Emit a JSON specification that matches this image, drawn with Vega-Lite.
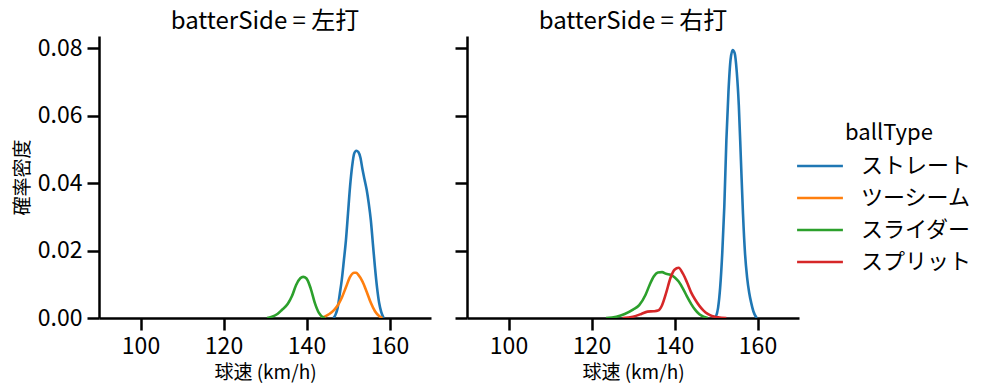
{
  "$schema": "https://vega.github.io/schema/vega-lite/v6.json",
  "background": "white",
  "padding": {"left": 13, "top": 10, "right": 5, "bottom": 5},
  "datasets": {
    "kde": [
      {"side": "左打", "ballType": "ストレート", "speed": 146.5, "density": 0},
      {"side": "左打", "ballType": "ストレート", "speed": 147, "density": 0.001},
      {"side": "左打", "ballType": "ストレート", "speed": 147.5, "density": 0.003},
      {"side": "左打", "ballType": "ストレート", "speed": 148, "density": 0.007},
      {"side": "左打", "ballType": "ストレート", "speed": 148.5, "density": 0.0113},
      {"side": "左打", "ballType": "ストレート", "speed": 149, "density": 0.017},
      {"side": "左打", "ballType": "ストレート", "speed": 149.5, "density": 0.023},
      {"side": "左打", "ballType": "ストレート", "speed": 150, "density": 0.031},
      {"side": "左打", "ballType": "ストレート", "speed": 150.5, "density": 0.039},
      {"side": "左打", "ballType": "ストレート", "speed": 151, "density": 0.045},
      {"side": "左打", "ballType": "ストレート", "speed": 151.5, "density": 0.0488},
      {"side": "左打", "ballType": "ストレート", "speed": 152, "density": 0.0496},
      {"side": "左打", "ballType": "ストレート", "speed": 152.5, "density": 0.0492},
      {"side": "左打", "ballType": "ストレート", "speed": 153, "density": 0.0475},
      {"side": "左打", "ballType": "ストレート", "speed": 153.5, "density": 0.044},
      {"side": "左打", "ballType": "ストレート", "speed": 154, "density": 0.041},
      {"side": "左打", "ballType": "ストレート", "speed": 154.5, "density": 0.038},
      {"side": "左打", "ballType": "ストレート", "speed": 155, "density": 0.034},
      {"side": "左打", "ballType": "ストレート", "speed": 155.5, "density": 0.029},
      {"side": "左打", "ballType": "ストレート", "speed": 156, "density": 0.022},
      {"side": "左打", "ballType": "ストレート", "speed": 156.5, "density": 0.015},
      {"side": "左打", "ballType": "ストレート", "speed": 157, "density": 0.009},
      {"side": "左打", "ballType": "ストレート", "speed": 157.5, "density": 0.0045},
      {"side": "左打", "ballType": "ストレート", "speed": 158, "density": 0.0018},
      {"side": "左打", "ballType": "ストレート", "speed": 158.6, "density": 0},
      {"side": "左打", "ballType": "ツーシーム", "speed": 143.5, "density": 0},
      {"side": "左打", "ballType": "ツーシーム", "speed": 144.5, "density": 0.0005},
      {"side": "左打", "ballType": "ツーシーム", "speed": 145.5, "density": 0.0012},
      {"side": "左打", "ballType": "ツーシーム", "speed": 146.5, "density": 0.0022},
      {"side": "左打", "ballType": "ツーシーム", "speed": 147.5, "density": 0.0037},
      {"side": "左打", "ballType": "ツーシーム", "speed": 148.5, "density": 0.006},
      {"side": "左打", "ballType": "ツーシーム", "speed": 149.5, "density": 0.0091},
      {"side": "左打", "ballType": "ツーシーム", "speed": 150.5, "density": 0.0122},
      {"side": "左打", "ballType": "ツーシーム", "speed": 151.5, "density": 0.0134},
      {"side": "左打", "ballType": "ツーシーム", "speed": 152, "density": 0.0134},
      {"side": "左打", "ballType": "ツーシーム", "speed": 152.5, "density": 0.0128},
      {"side": "左打", "ballType": "ツーシーム", "speed": 153.5, "density": 0.0108},
      {"side": "左打", "ballType": "ツーシーム", "speed": 154.5, "density": 0.0078},
      {"side": "左打", "ballType": "ツーシーム", "speed": 155.5, "density": 0.0045},
      {"side": "左打", "ballType": "ツーシーム", "speed": 156.5, "density": 0.002},
      {"side": "左打", "ballType": "ツーシーム", "speed": 157.5, "density": 0.0006},
      {"side": "左打", "ballType": "ツーシーム", "speed": 158.3, "density": 0},
      {"side": "左打", "ballType": "スライダー", "speed": 130.5, "density": 0},
      {"side": "左打", "ballType": "スライダー", "speed": 131.5, "density": 0.0003},
      {"side": "左打", "ballType": "スライダー", "speed": 133, "density": 0.0012},
      {"side": "左打", "ballType": "スライダー", "speed": 134, "density": 0.0023},
      {"side": "左打", "ballType": "スライダー", "speed": 135.5, "density": 0.0042},
      {"side": "左打", "ballType": "スライダー", "speed": 136.5, "density": 0.0065},
      {"side": "左打", "ballType": "スライダー", "speed": 137.5, "density": 0.0098},
      {"side": "左打", "ballType": "スライダー", "speed": 138.5, "density": 0.0118},
      {"side": "左打", "ballType": "スライダー", "speed": 139.2, "density": 0.0122},
      {"side": "左打", "ballType": "スライダー", "speed": 140, "density": 0.0117},
      {"side": "左打", "ballType": "スライダー", "speed": 141, "density": 0.0088},
      {"side": "左打", "ballType": "スライダー", "speed": 142, "density": 0.0045},
      {"side": "左打", "ballType": "スライダー", "speed": 143, "density": 0.0015},
      {"side": "左打", "ballType": "スライダー", "speed": 144, "density": 0.0002},
      {"side": "左打", "ballType": "スライダー", "speed": 144.5, "density": 0},
      {"side": "右打", "ballType": "ストレート", "speed": 149.8, "density": 0},
      {"side": "右打", "ballType": "ストレート", "speed": 150.5, "density": 0.003},
      {"side": "右打", "ballType": "ストレート", "speed": 151, "density": 0.009},
      {"side": "右打", "ballType": "ストレート", "speed": 151.5, "density": 0.019},
      {"side": "右打", "ballType": "ストレート", "speed": 152, "density": 0.033},
      {"side": "右打", "ballType": "ストレート", "speed": 152.5, "density": 0.0527},
      {"side": "右打", "ballType": "ストレート", "speed": 153, "density": 0.067},
      {"side": "右打", "ballType": "ストレート", "speed": 153.5, "density": 0.0765},
      {"side": "右打", "ballType": "ストレート", "speed": 154, "density": 0.0794},
      {"side": "右打", "ballType": "ストレート", "speed": 154.5, "density": 0.0785},
      {"side": "右打", "ballType": "ストレート", "speed": 155, "density": 0.073},
      {"side": "右打", "ballType": "ストレート", "speed": 155.5, "density": 0.063},
      {"side": "右打", "ballType": "ストレート", "speed": 156, "density": 0.047},
      {"side": "右打", "ballType": "ストレート", "speed": 156.5, "density": 0.031},
      {"side": "右打", "ballType": "ストレート", "speed": 157, "density": 0.019},
      {"side": "右打", "ballType": "ストレート", "speed": 157.5, "density": 0.012},
      {"side": "右打", "ballType": "ストレート", "speed": 158, "density": 0.0075},
      {"side": "右打", "ballType": "ストレート", "speed": 158.5, "density": 0.0044},
      {"side": "右打", "ballType": "ストレート", "speed": 159, "density": 0.002},
      {"side": "右打", "ballType": "ストレート", "speed": 159.8, "density": 0},
      {"side": "右打", "ballType": "スライダー", "speed": 123.5, "density": 0},
      {"side": "右打", "ballType": "スライダー", "speed": 126, "density": 0.0004},
      {"side": "右打", "ballType": "スライダー", "speed": 128, "density": 0.0012},
      {"side": "右打", "ballType": "スライダー", "speed": 130, "density": 0.0025},
      {"side": "右打", "ballType": "スライダー", "speed": 131.5, "density": 0.0038},
      {"side": "右打", "ballType": "スライダー", "speed": 133, "density": 0.0068},
      {"side": "右打", "ballType": "スライダー", "speed": 134, "density": 0.0098},
      {"side": "右打", "ballType": "スライダー", "speed": 135, "density": 0.0123},
      {"side": "右打", "ballType": "スライダー", "speed": 136, "density": 0.0135},
      {"side": "右打", "ballType": "スライダー", "speed": 137, "density": 0.0136},
      {"side": "右打", "ballType": "スライダー", "speed": 138, "density": 0.0131},
      {"side": "右打", "ballType": "スライダー", "speed": 139, "density": 0.0128},
      {"side": "右打", "ballType": "スライダー", "speed": 140, "density": 0.0121},
      {"side": "右打", "ballType": "スライダー", "speed": 141, "density": 0.0108},
      {"side": "右打", "ballType": "スライダー", "speed": 142, "density": 0.0088},
      {"side": "右打", "ballType": "スライダー", "speed": 143, "density": 0.0064},
      {"side": "右打", "ballType": "スライダー", "speed": 144, "density": 0.0042},
      {"side": "右打", "ballType": "スライダー", "speed": 145, "density": 0.0024},
      {"side": "右打", "ballType": "スライダー", "speed": 146, "density": 0.0011},
      {"side": "右打", "ballType": "スライダー", "speed": 147, "density": 0.0004},
      {"side": "右打", "ballType": "スライダー", "speed": 148, "density": 0},
      {"side": "右打", "ballType": "スプリット", "speed": 127.5, "density": 0},
      {"side": "右打", "ballType": "スプリット", "speed": 130, "density": 0.0004},
      {"side": "右打", "ballType": "スプリット", "speed": 132, "density": 0.0012},
      {"side": "右打", "ballType": "スプリット", "speed": 133.5, "density": 0.0019},
      {"side": "右打", "ballType": "スプリット", "speed": 135, "density": 0.002},
      {"side": "右打", "ballType": "スプリット", "speed": 136, "density": 0.0022},
      {"side": "右打", "ballType": "スプリット", "speed": 137, "density": 0.0038},
      {"side": "右打", "ballType": "スプリット", "speed": 138, "density": 0.0075},
      {"side": "右打", "ballType": "スプリット", "speed": 139, "density": 0.0118},
      {"side": "右打", "ballType": "スプリット", "speed": 140, "density": 0.0143},
      {"side": "右打", "ballType": "スプリット", "speed": 141, "density": 0.0149},
      {"side": "右打", "ballType": "スプリット", "speed": 142, "density": 0.0132},
      {"side": "右打", "ballType": "スプリット", "speed": 143, "density": 0.0106},
      {"side": "右打", "ballType": "スプリット", "speed": 144, "density": 0.0076},
      {"side": "右打", "ballType": "スプリット", "speed": 145, "density": 0.0054},
      {"side": "右打", "ballType": "スプリット", "speed": 146, "density": 0.0036},
      {"side": "右打", "ballType": "スプリット", "speed": 147, "density": 0.0022},
      {"side": "右打", "ballType": "スプリット", "speed": 148, "density": 0.0012},
      {"side": "右打", "ballType": "スプリット", "speed": 149, "density": 0.0006},
      {"side": "右打", "ballType": "スプリット", "speed": 150.5, "density": 0.0002},
      {"side": "右打", "ballType": "スプリット", "speed": 152.5, "density": 0}
    ]
  },
  "data": {"name": "kde"},
  "spacing": 22,
  "hconcat": [
    {
      "title": "batterSide = 左打",
      "width": 332,
      "height": 282,
      "transform": [{"filter": "datum.side === '左打'"}],
      "mark": {"type": "line", "interpolate": "monotone", "strokeWidth": 2.6, "clip": true},
      "encoding": {
        "x": {"field": "speed", "type": "quantitative", "title": "球速 (km/h)",
              "scale": {"domain": [90, 170], "nice": false, "zero": false},
              "axis": {"values": [100, 120, 140, 160]}},
        "y": {"field": "density", "type": "quantitative", "title": "確率密度",
              "scale": {"domain": [0, 0.0836], "nice": false},
              "axis": {"values": [0, 0.02, 0.04, 0.06, 0.08], "format": ".2f"}},
        "color": {"field": "ballType", "type": "nominal", "title": "ballType",
                  "scale": {"domain": ["ストレート", "ツーシーム", "スライダー", "スプリット"],
                            "range": ["#1f77b4", "#ff7f0e", "#2ca02c", "#d62728"]}}
      }
    },
    {
      "title": "batterSide = 右打",
      "width": 332,
      "height": 282,
      "transform": [{"filter": "datum.side === '右打'"}],
      "mark": {"type": "line", "interpolate": "monotone", "strokeWidth": 2.6, "clip": true},
      "encoding": {
        "x": {"field": "speed", "type": "quantitative", "title": "球速 (km/h)",
              "scale": {"domain": [90, 170], "nice": false, "zero": false},
              "axis": {"values": [100, 120, 140, 160]}},
        "y": {"field": "density", "type": "quantitative", "title": null,
              "scale": {"domain": [0, 0.0836], "nice": false},
              "axis": {"values": [0, 0.02, 0.04, 0.06, 0.08], "labels": false}},
        "color": {"field": "ballType", "type": "nominal", "title": "ballType",
                  "scale": {"domain": ["ストレート", "ツーシーム", "スライダー", "スプリット"],
                            "range": ["#1f77b4", "#ff7f0e", "#2ca02c", "#d62728"]}}
      }
    }
  ],
  "resolve": {"scale": {"y": "shared", "x": "independent", "color": "shared"}},
  "config": {
    "font": "Noto Sans CJK JP",
    "view": {"stroke": null},
    "title": {"fontSize": 24, "fontWeight": "normal", "color": "black", "offset": 2, "anchor": "middle"},
    "axis": {
      "grid": false,
      "domainColor": "black", "domainWidth": 2.5,
      "tickColor": "black", "tickWidth": 2.5, "tickSize": 12,
      "labelFontSize": 23, "labelColor": "black", "labelPadding": 5,
      "titleFontSize": 19, "titleFontWeight": "normal", "titleColor": "black", "titlePadding": 5
    },
    "legend": {
      "orient": "none", "legendX": 708, "legendY": 87,
      "titleFontSize": 22, "titleFontWeight": "normal", "titleColor": "black", "titleAnchor": "middle", "titlePadding": 8,
      "labelFontSize": 22, "labelColor": "black", "labelOffset": 28,
      "symbolType": "M-2,0H2", "symbolSize": 525, "symbolStrokeWidth": 2.6, "rowPadding": 8
    }
  }
}
